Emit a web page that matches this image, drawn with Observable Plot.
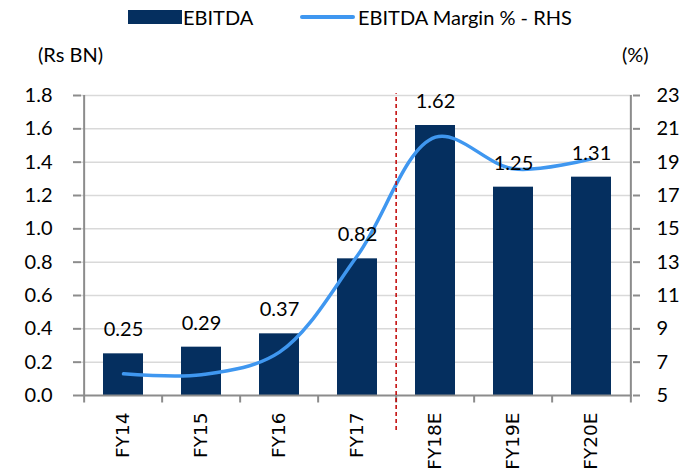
<!DOCTYPE html>
<html>
<head>
<meta charset="utf-8">
<script src="https://cdn.jsdelivr.net/npm/d3@7"></script>
<script src="https://cdn.jsdelivr.net/npm/@observablehq/plot@0.6"></script>
<style>
  html, body { margin: 0; padding: 0; background: #fff; }
  #wrap { position: relative; width: 696px; height: 472px; font-family: Lato, "Open Sans", sans-serif; color: #000; }
  .lg { position: absolute; font-size: 20px; line-height: 24px; white-space: nowrap; }
  .sw { position: absolute; }
</style>
</head>
<body>
<div id="wrap"></div>
<script>
const categories = ["FY14", "FY15", "FY16", "FY17", "FY18E", "FY19E", "FY20E"];
const ebitda = [0.25, 0.29, 0.37, 0.82, 1.62, 1.25, 1.31];
const marginPct = [6.3, 6.25, 7.6, 13.4, 20.5, 18.6, 19.2];
const lhsTicks = [0, 0.2, 0.4, 0.6, 0.8, 1.0, 1.2, 1.4, 1.6, 1.8];
const rhsTicks = [5, 7, 9, 11, 13, 15, 17, 19, 21, 23];
const seriesNames = ["EBITDA", "EBITDA Margin % - RHS"];
const unitLabels = ["(Rs BN)", "(%)"];
const dividerBefore = ["FY18E"];

const barColor = "#052f5f";
const lineColor = "#3f97f0";
const axisColor = "#8c8c8c";
const gridColor = "#d9d9d9";

const data = categories.map((c, i) => ({cat: c, ebitda: ebitda[i], margin: marginPct[i]}));
const rhsToLhs = v => (v - 5) / 10;   // 5..23 -> 0..1.8
const lhsToRhs = v => Math.round(v * 10 + 5);

const W = 696, H = 472;
const mL = 81, mR = 64, mT = 95, mB = 77;
const bw = (W - mL - mR) / categories.length;

const chart = Plot.plot({
  width: W,
  height: H,
  marginLeft: mL,
  marginRight: mR,
  marginTop: mT,
  marginBottom: mB,
  style: {fontFamily: "Lato, 'Open Sans', sans-serif", fontSize: "20px", color: "#000", background: "#fff", overflow: "visible"},
  x: {domain: categories, paddingInner: 0.49, paddingOuter: 0.245, label: null},
  y: {domain: [0, 1.8], label: null},
  marks: [
    Plot.gridY(lhsTicks.slice(1), {stroke: gridColor, strokeOpacity: 1, strokeWidth: 1.5}),
    Plot.barY(data, {x: "cat", y: "ebitda", fill: barColor}),
    Plot.line(data, {x: "cat", y: d => rhsToLhs(d.margin), stroke: lineColor, strokeWidth: 3.5, curve: "catmull-rom"}),
    Plot.text(data, {x: "cat", y: "ebitda", text: d => d.ebitda.toFixed(2), dy: -24, fontSize: 20, fill: "#000"}),
    // axis baseline
    Plot.ruleY([0], {stroke: axisColor, strokeWidth: 2}),
    // left and right axis lines
    Plot.ruleX([categories[0]], {dx: -bw / 2, y1: -0.045, y2: 1.8, stroke: axisColor, strokeWidth: 2}),
    Plot.ruleX([categories[categories.length - 1]], {dx: bw / 2, y1: -0.045, y2: 1.8, stroke: axisColor, strokeWidth: 2}),
    // category boundary ticks
    Plot.ruleX(categories.slice(1), {dx: -bw / 2, y1: -0.045, y2: 0, stroke: axisColor, strokeWidth: 2}),
    // forecast divider
    Plot.ruleX(dividerBefore, {dx: -bw / 2, y1: -0.21, y2: 1.81, stroke: "#c00000", strokeWidth: 1.5, strokeDasharray: "4,3"}),
    Plot.axisY(lhsTicks, {anchor: "left", tickSize: 8, tickPadding: 21, stroke: axisColor, strokeWidth: 2, tickFormat: d => d.toFixed(1), label: null, fontSize: 20}),
    Plot.axisY(rhsTicks.map(rhsToLhs), {anchor: "right", tickSize: 7, tickPadding: 17, stroke: axisColor, strokeWidth: 2, tickFormat: lhsToRhs, label: null, fontSize: 20}),
    Plot.axisX({tickSize: 0, tickRotate: -90, tickPadding: 17, label: null, fontFamily: "'DejaVu Sans', sans-serif", fontSize: 18.5})
  ]
});

const wrap = document.getElementById("wrap");
wrap.appendChild(chart);

function addText(txt, left, top) {
  const d = document.createElement("div");
  d.className = "lg";
  d.textContent = txt;
  d.style.left = left + "px";
  d.style.top = top + "px";
  wrap.appendChild(d);
}
function addSwatch(left, top, w, h, color, radius) {
  const d = document.createElement("div");
  d.className = "sw";
  d.style.left = left + "px";
  d.style.top = top + "px";
  d.style.width = w + "px";
  d.style.height = h + "px";
  d.style.background = color;
  if (radius) d.style.borderRadius = radius + "px";
  wrap.appendChild(d);
}
// legend
addSwatch(128, 10, 54, 14, barColor);
addText(seriesNames[0], 183, 5);
addSwatch(300, 15, 55, 4, lineColor, 2);
addText(seriesNames[1], 358, 5);
// unit labels
addText(unitLabels[0], 38, 42);
addText(unitLabels[1], 622, 42);
</script>
</body>
</html>
